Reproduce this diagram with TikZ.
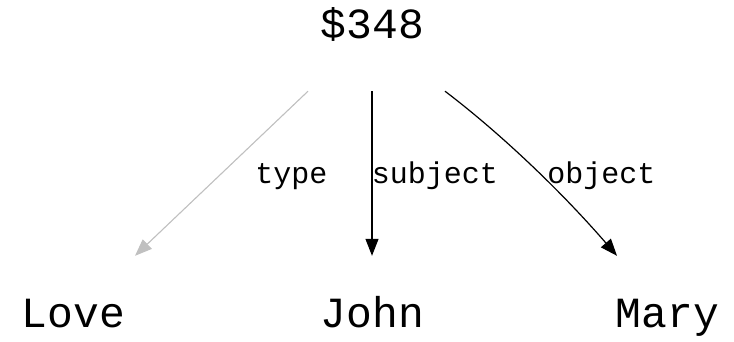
\documentclass[tikz,border=0pt]{standalone}
\usepackage{fontspec}
\setmonofont{Liberation Mono}
\usetikzlibrary{arrows.meta}
\definecolor{edgegray}{HTML}{C0C0C0}
\tikzset{
  vnode/.style={font=\ttfamily\fontsize{43}{43}\selectfont, inner sep=0pt, text height=0pt, text depth=0pt, anchor=center},
  elabel/.style={font=\ttfamily\fontsize{30}{30}\selectfont, inner sep=0pt, anchor=base},
  edge/.style={line width=1.2pt, -{Triangle[length=17pt,width=13pt]}},
  typeedge/.style={edge, draw=edgegray, fill=edgegray, line width=1.1pt},
}
\begin{document}
\begin{tikzpicture}[x=1pt,y=-1pt]
\useasboundingbox (0,0) rectangle (734,341);
\node[vnode, minimum height=106pt] (top) at (372.5,38) {\$348};
\node[vnode, minimum height=142pt] (love) at (73.5,327) {Love};
\node[vnode, minimum height=142pt] (john) at (372.5,327) {John};
\node[vnode, minimum height=142pt] (mary) at (667.5,327) {Mary};
\node[elabel] (ltype) at (291.5,183) {type};
\node[elabel] (lsubj) at (435,183) {subject};
\node[elabel] (lobj) at (601.5,183) {object};
\draw[typeedge] ([xshift=-64.5pt]top.south) -- ([xshift=61.5pt]love.north);
\draw[edge] ([xshift=-0.5pt]top.south) -- ([xshift=-0.5pt]john.north);
\draw[edge] ([xshift=72.5pt]top.south) .. controls (500,133) and (560,190) .. ([xshift=-50.5pt]mary.north);
\end{tikzpicture}
\end{document}
